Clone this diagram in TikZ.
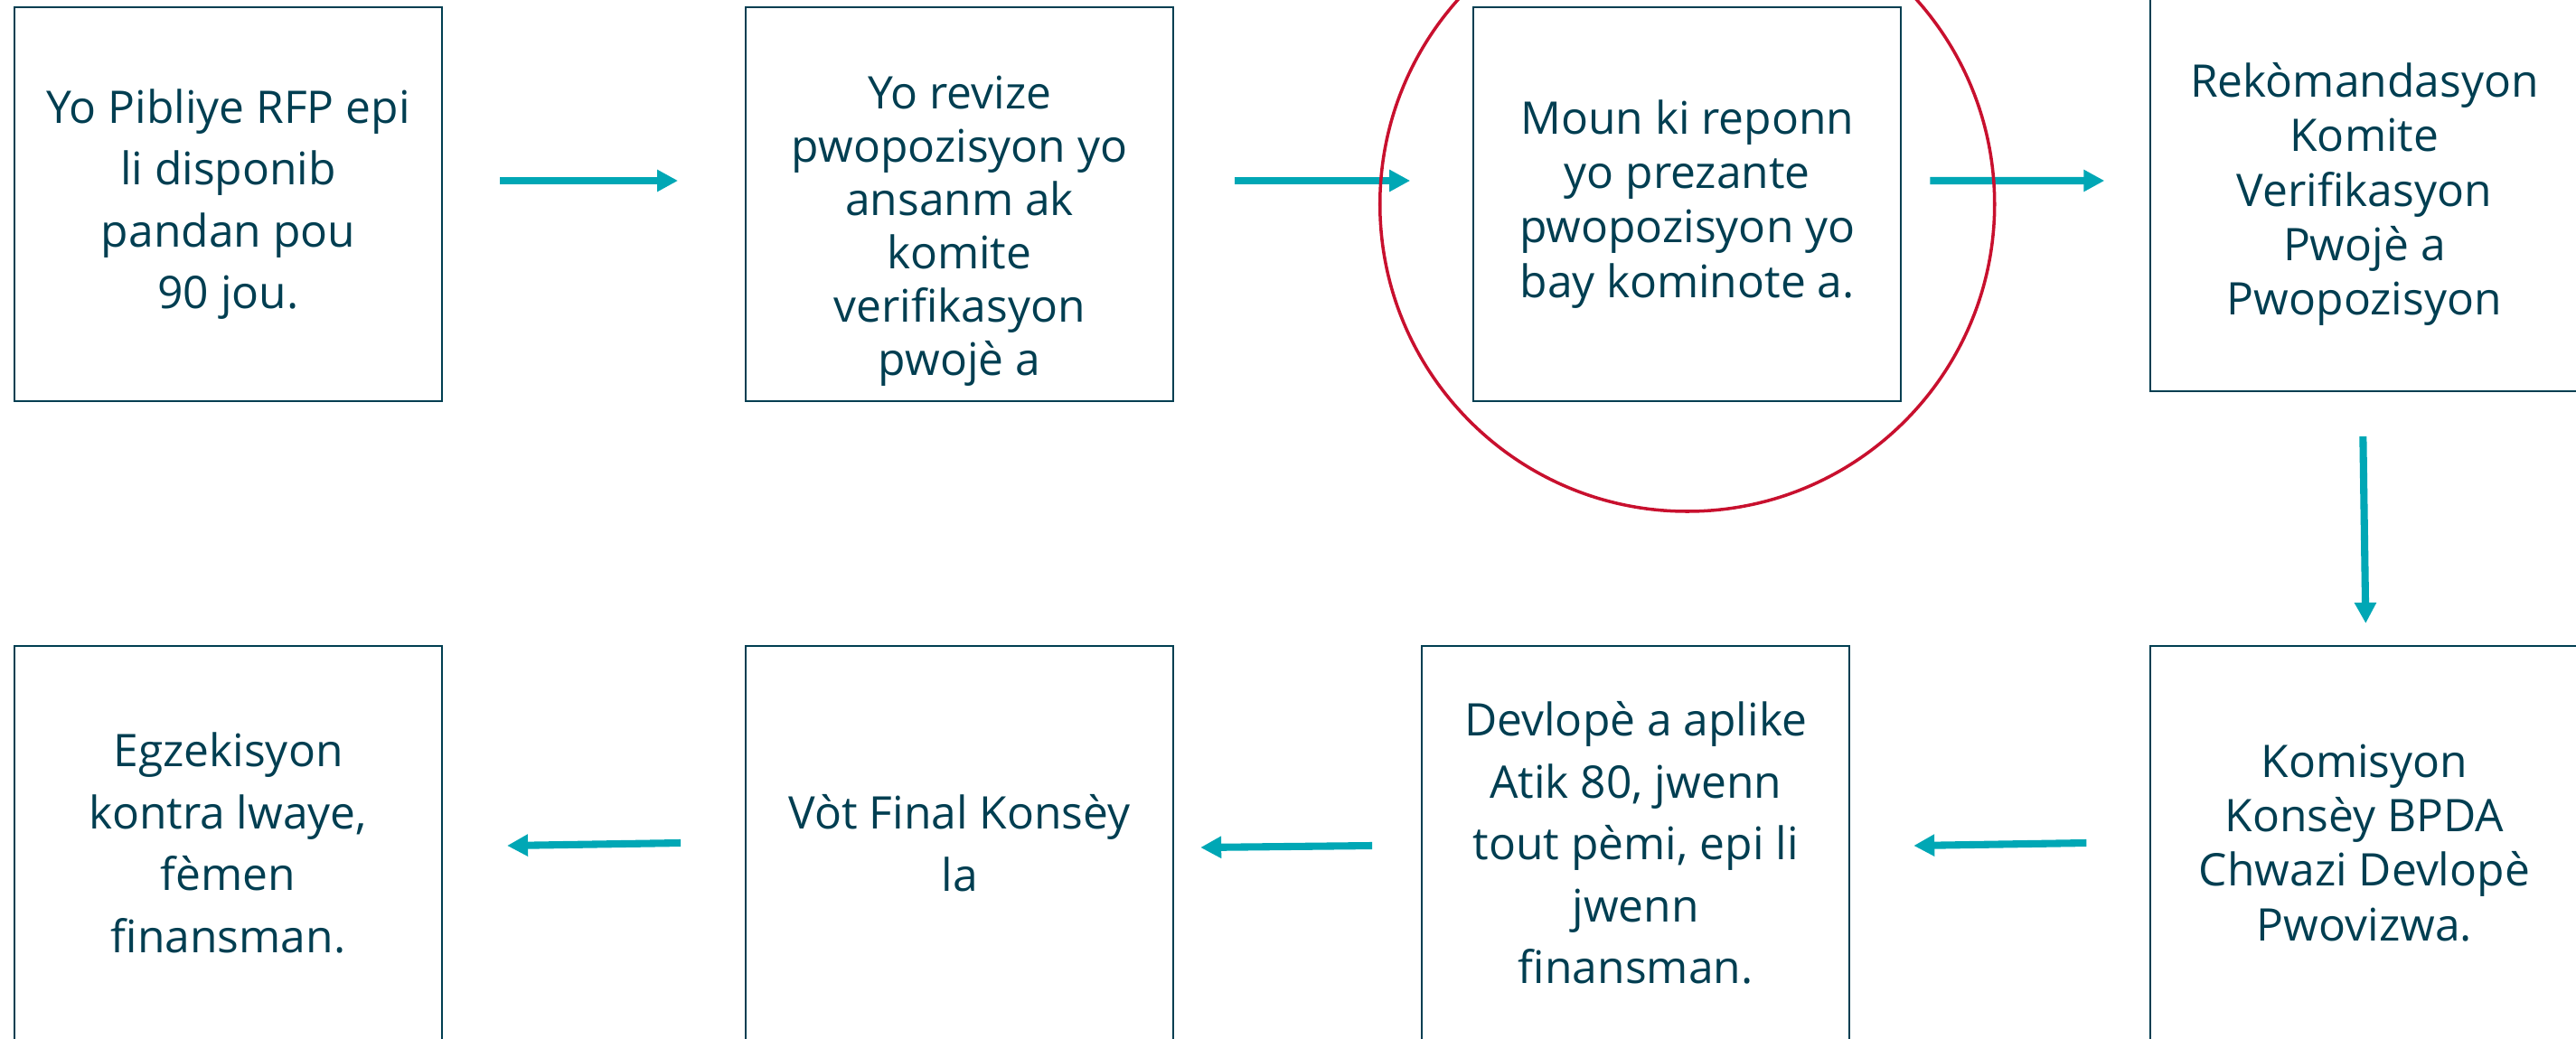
\documentclass[tikz,border=0pt]{standalone}
\usepackage{fontspec}
\setmainfont{Open Sans}
\usetikzlibrary{arrows.meta,positioning}
\definecolor{stepink}{RGB}{0,62,81}
\definecolor{flowteal}{RGB}{0,167,181}
\definecolor{ringred}{RGB}{200,16,46}

\begin{document}
\begin{tikzpicture}[
  >={Triangle[length=2.3mm,width=2.3mm]},
  stepbox/.style={draw=stepink, line width=0.6pt, align=center, text=stepink,
    minimum width=47.3mm, minimum height=43.6mm, inner sep=0pt,
    font=\fontsize{14.15}{19.5}\selectfont},
  tight/.style={font=\fontsize{14.15}{17.1}\selectfont},
  steptext/.style={align=center, text=stepink, inner sep=0pt,
    font=\fontsize{14.15}{16.8}\selectfont},
  flow/.style={->, draw=flowteal, line width=2.3pt},
  ring/.style={circle, draw=ringred, line width=1pt, minimum size=68mm, inner sep=0pt}]
\clip (0,0) rectangle (28.5,-11.49);
% top row
\node[stepbox] (b1) at (2.525,-2.26) {Yo Pibliye RFP epi\\li disponib\\pandan pou\\90 jou.};
\node[stepbox, right=33.4mm of b1] (b2) {};
\node[steptext] (t2) at ([yshift=-3mm]b2.center) {Yo revize\\pwopozisyon yo\\ansanm ak\\komite\\verifikasyon\\pwojè a};
\node[stepbox, tight, right=33mm of b2] (b3) {Moun ki reponn\\yo prezante\\pwopozisyon yo\\bay kominote a.};
\node[stepbox, tight, right=27.4mm of b3, yshift=1.1mm] (b4) {Rekòmandasyon\\Komite\\Verifikasyon\\Pwojè a\\Pwopozisyon};
% bottom row
\node[stepbox] (b5) at (2.525,-9.33) {Egzekisyon\\kontra lwaye,\\fèmen\\finansman.};
\node[stepbox, right=33.4mm of b5] (b6) {Vòt Final Konsèy\\la};
\node[stepbox, right=27.3mm of b6] (b7) {Devlopè a aplike\\Atik 80, jwenn\\tout pèmi, epi li\\jwenn\\finansman.};
\node[stepbox, tight, right=33.1mm of b7] (b8) {Komisyon\\Konsèy BPDA\\Chwazi Devlopè\\Pwovizwa.};
% arrows
\draw[flow] ([xshift=6.3mm,yshift=2.6mm]b1.east) -- ([xshift=-7.4mm,yshift=2.6mm]b2.west);
\draw[flow] ([xshift=6.7mm,yshift=2.6mm]b2.east) -- ([xshift=-6.9mm,yshift=2.6mm]b3.west);
\draw[flow] ([xshift=3.1mm,yshift=2.6mm]b3.east) -- ([xshift=-5mm,yshift=1.5mm]b4.west);
\draw[flow] ([xshift=-0.15mm,yshift=-4.9mm]b4.south) -- ([xshift=0.15mm,yshift=2.4mm]b8.north);
\draw[flow] ([xshift=-7mm]b8.west) -- ([xshift=7mm,yshift=-0.3mm]b7.east);
\draw[flow] ([xshift=-5.4mm,yshift=-0.3mm]b7.west) -- ([xshift=2.9mm,yshift=-0.5mm]b6.east);
\draw[flow] ([xshift=-7.1mm]b6.west) -- ([xshift=7.1mm,yshift=-0.3mm]b5.east);
% highlight
\node[ring] (hl) at (b3.center) {};
\end{tikzpicture}
\end{document}
